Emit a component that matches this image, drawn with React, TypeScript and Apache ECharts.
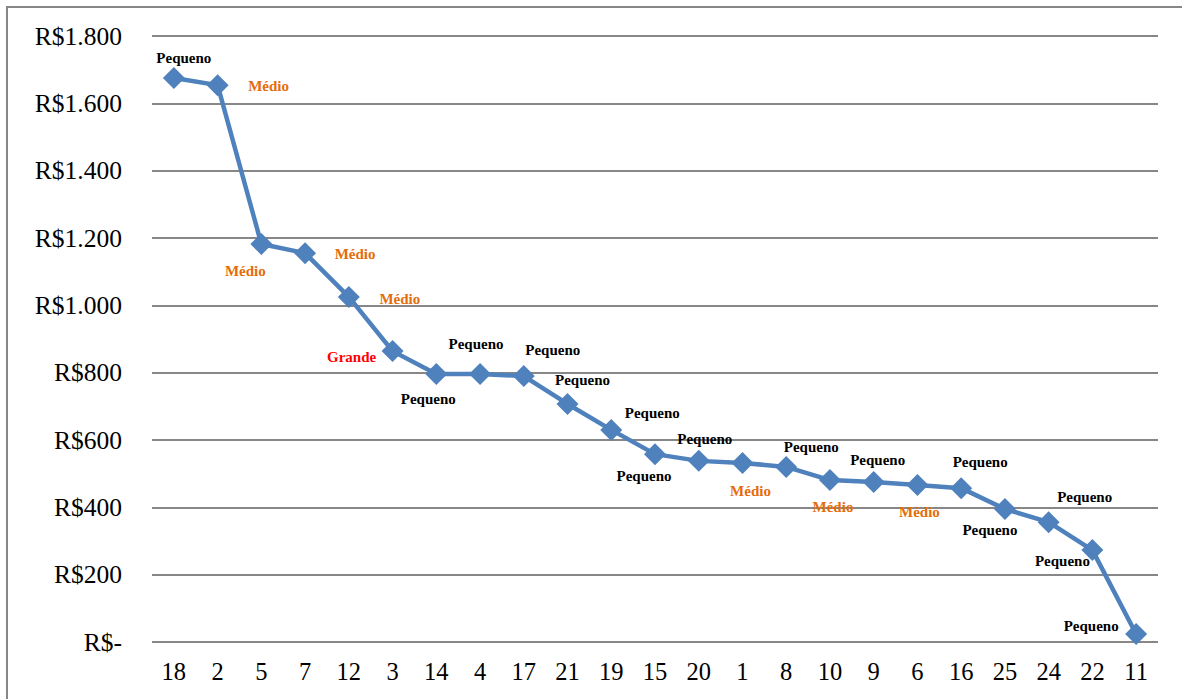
import React, { useEffect, useRef } from "react";
import * as echarts from "echarts";

const categories = ["18", "2", "5", "7", "12", "3", "14", "4", "17", "21", "19", "15", "20", "1", "8", "10", "9", "6", "16", "25", "24", "22", "11"];
const values = [1675, 1654, 1182, 1155, 1025, 864, 796, 796, 790, 707, 630, 558, 538, 532, 520, 481, 475, 466, 457, 395, 356, 273, 24];
const sizeLabels = ["Pequeno", "Médio", "Médio", "Médio", "Médio", "Grande", "Pequeno", "Pequeno", "Pequeno", "Pequeno", "Pequeno", "Pequeno", "Pequeno", "Médio", "Pequeno", "Médio", "Pequeno", "Médio", "Pequeno", "Pequeno", "Pequeno", "Pequeno", "Pequeno"];
const yTicks = [0, 200, 400, 600, 800, 1000, 1200, 1400, 1600, 1800];

// layout: label offsets (px) from each marker
const labelOffsets: [number, number][] = [
  [10, -20], [51, 1], [-16, 27], [50, 1], [51, 2], [-41, 6], [-8, 25], [-4, -30], [29, -26], [15, -24],
  [41, -17], [-11, 22], [6, -22], [8, 28], [25, -20], [3, 27], [4, -22], [2, 27], [19, -26], [-15, 21],
  [36, -25], [-30, 11], [-45, -8],
];
const sizeColors: Record<string, string> = { Pequeno: "#000000", "Médio": "#E46C0A", Grande: "#FF0000" };

const fmt = (v: number) => {
  if (v === 0) return "R$-";
  return "R$" + v.toLocaleString("de-DE");
};

export default function App() {
  const ref = useRef<HTMLDivElement>(null);
  useEffect(() => {
    if (!ref.current) return;
    const chart = echarts.init(ref.current, null, { renderer: "svg" });
    const serif = "'Liberation Serif', 'Times New Roman', serif";
    chart.setOption({
      animation: false,
      backgroundColor: "#ffffff",
      textStyle: { fontFamily: serif },
      graphic: [
        {
          type: "rect",
          shape: { x: 7, y: 7, width: 1200, height: 720 },
          style: { fill: "none", stroke: "#878787", lineWidth: 2 },
          silent: true,
        },
      ],
      grid: { left: 152, right: 24, top: 36, bottom: 57, containLabel: false },
      xAxis: {
        type: "category",
        data: categories,
        boundaryGap: true,
        axisLine: { show: false },
        axisTick: { show: false },
        axisLabel: { color: "#000", fontSize: 24.5, fontFamily: serif, margin: 17 },
      },
      yAxis: {
        type: "value",
        min: 0,
        max: 1800,
        interval: 200,
        axisLine: { show: false },
        axisTick: { show: false },
        splitLine: { lineStyle: { color: "#878787", width: 2 } },
        axisLabel: {
          color: "#000",
          fontSize: 25.5,
          fontFamily: serif,
          margin: 30,
          formatter: (v: number) => (yTicks.includes(v) ? fmt(v) : ""),
        },
      },
      series: [
        {
          type: "line",
          data: values.map((v, i) => ({
            value: v,
            label: {
              show: true,
              formatter: sizeLabels[i],
              color: sizeColors[sizeLabels[i]],
              position: "inside",
              offset: labelOffsets[i],
              align: "center",
              verticalAlign: "middle",
              fontSize: 15,
              fontWeight: "bold",
              fontFamily: serif,
            },
          })),
          symbol: "diamond",
          symbolSize: 22,
          lineStyle: { color: "#4F81BD", width: 4.5 },
          itemStyle: { color: "#4F81BD" },
        },
      ],
    });
    return () => chart.dispose();
  }, []);
  return <div ref={ref} style={{ position: "fixed", left: 0, top: 0, width: 1182, height: 699 }} />;
}
